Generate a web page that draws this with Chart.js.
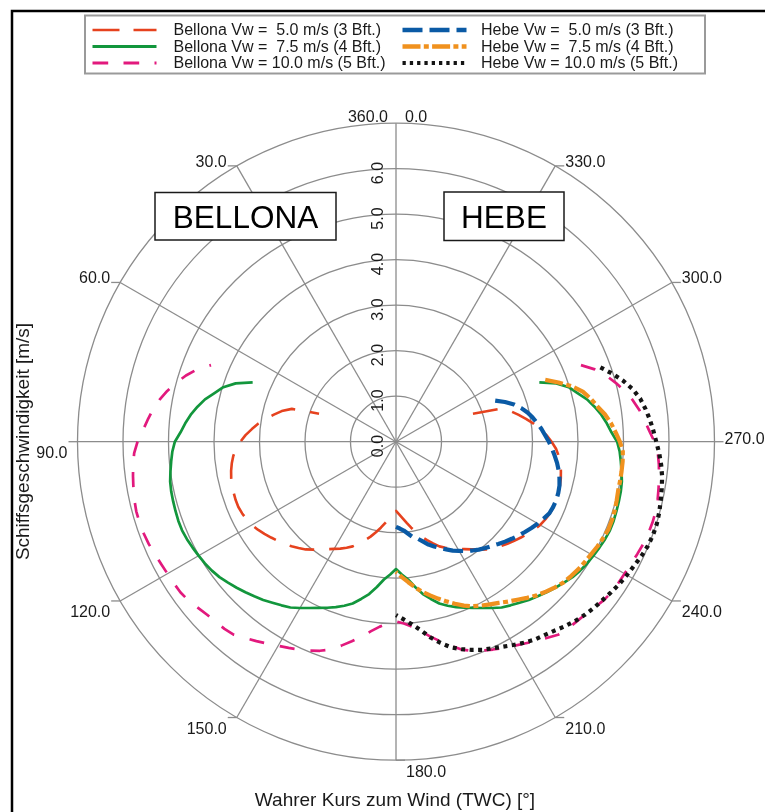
<!DOCTYPE html>
<html lang="de">
<head>
<meta charset="utf-8">
<title>Polardiagramm Bellona / Hebe</title>
<script src="https://cdn.jsdelivr.net/npm/chart.js@4/dist/chart.umd.min.js"></script>
<style>
  html, body { margin: 0; padding: 0; background: #ffffff; }
  #polar { display: block; }
</style>
</head>
<body>
<canvas id="polar" width="765" height="812"></canvas>
<script>
// Angular resolution of the polar grid (TWC in degrees)
const twcStep = 2.5;

// Tick labels
const angleTicks = [0, 30, 60, 90, 120, 150, 180, 210, 240, 270, 300, 330];
const speedTicks = [0, 1, 2, 3, 4, 5, 6];

// Ship speed [m/s] over true wind course, one value every 2.5 deg starting at *From
const bellona50From = 70;
const bellona50 = [
  1.80, 2.40, 2.60, 2.75, 2.90, 3.05, 3.18, 3.31, 3.42, 3.52,
  3.59, 3.64, 3.68, 3.71, 3.73, 3.74, 3.75, 3.75, 3.73, 3.70,
  3.66, 3.60, 3.53, 3.46, 3.39, 3.32, 3.25, 3.17, 3.09, 2.99,
  2.89, 2.80, 2.72, 2.65, 2.57, 2.49, 2.38, 2.27, 2.16, 2.04,
  1.92, 1.80, 1.69, 1.60, 1.52,
  1.60, 1.69, 1.80, 1.92, 2.04, 2.16, 2.27, 2.38, 2.49, 2.57,
  2.65, 2.72, 2.80, 2.89, 2.99, 3.09, 3.17, 3.25, 3.32, 3.39,
  3.46, 3.53, 3.60, 3.66, 3.70, 3.73, 3.75, 3.75, 3.74, 3.73,
  3.71, 3.68, 3.64, 3.59, 3.52, 3.42, 3.31, 3.18, 3.05, 2.90,
  2.75, 2.60, 2.40, 1.80
];

const bellona75From = 67.5;
const bellona75 = [
  3.41, 3.75, 3.98, 4.13, 4.30, 4.43, 4.55, 4.65, 4.74, 4.86,
  4.92, 4.96, 5.00, 5.04, 5.06, 5.07, 5.08, 5.09, 5.09, 5.07,
  5.04, 5.01, 4.98, 4.94, 4.89, 4.82, 4.75, 4.68, 4.61, 4.54,
  4.46, 4.39, 4.32, 4.22, 4.12, 4.03, 3.95, 3.87, 3.78, 3.68,
  3.54, 3.40, 3.22, 3.04, 2.92, 2.80,
  2.92, 3.04, 3.22, 3.40, 3.54, 3.68, 3.78, 3.87, 3.95, 4.03,
  4.12, 4.22, 4.32, 4.39, 4.46, 4.54, 4.61, 4.68, 4.75, 4.82,
  4.89, 4.94, 4.98, 5.01, 5.04, 5.07, 5.09, 5.09, 5.08, 5.07,
  5.06, 5.04, 5.00, 4.96, 4.92, 4.86, 4.74, 4.65, 4.55, 4.43,
  4.30, 4.13, 3.98, 3.75, 3.41
];

const bellona100From = 67.5;
const bellona100 = [
  4.40, 4.65, 4.84, 5.00, 5.15, 5.28, 5.39, 5.48, 5.57, 5.68,
  5.76, 5.80, 5.83, 5.86, 5.89, 5.91, 5.91, 5.90, 5.88, 5.85,
  5.82, 5.80, 5.79, 5.78, 5.74, 5.68, 5.63, 5.60, 5.58, 5.54,
  5.44, 5.35, 5.26, 5.18, 5.11, 5.04, 4.97, 4.89, 4.79, 4.64,
  4.49, 4.35, 4.20, 4.08, 4.00, 3.95,
  4.00, 4.08, 4.20, 4.35, 4.49, 4.64, 4.79, 4.89, 4.97, 5.04,
  5.11, 5.18, 5.26, 5.35, 5.44, 5.54, 5.58, 5.60, 5.63, 5.68,
  5.74, 5.78, 5.79, 5.80, 5.82, 5.85, 5.88, 5.90, 5.91, 5.91,
  5.89, 5.86, 5.83, 5.80, 5.76, 5.68, 5.57, 5.48, 5.39, 5.28,
  5.15, 5.00, 4.84, 4.65, 4.40
];

const hebe50From = 180;
const hebe50 = [
  1.87, 1.91, 1.96, 2.04, 2.13, 2.18, 2.27, 2.37, 2.45, 2.53,
  2.61, 2.70, 2.77, 2.85, 2.92, 2.99, 3.05, 3.11, 3.18, 3.25,
  3.32, 3.39, 3.46, 3.53, 3.60, 3.66, 3.72, 3.74, 3.75, 3.74,
  3.72, 3.68, 3.63, 3.57, 3.50, 3.43, 3.36, 3.28, 3.21, 3.13,
  3.05, 2.96, 2.85, 2.72, 2.55, 2.36
];

const hebe75From = 180;
const hebe75 = [
  2.86, 2.98, 3.10, 3.23, 3.35, 3.46, 3.57, 3.68, 3.79, 3.90,
  3.99, 4.06, 4.13, 4.20, 4.29, 4.38, 4.48, 4.58, 4.66, 4.74,
  4.81, 4.85, 4.89, 4.92, 4.95, 4.99, 5.02, 5.05, 5.05, 5.04,
  5.02, 5.00, 5.00, 5.00, 5.00, 4.99, 4.92, 4.83, 4.74, 4.63,
  4.49, 4.38, 4.25, 4.05, 3.80, 3.55
];

const hebe100From = 180;
const hebe100 = [
  3.81, 3.91, 4.03, 4.18, 4.37, 4.53, 4.68, 4.78, 4.87, 4.95,
  5.01, 5.08, 5.16, 5.24, 5.31, 5.36, 5.42, 5.50, 5.57, 5.63,
  5.68, 5.72, 5.77, 5.82, 5.86, 5.90, 5.95, 5.99, 6.01, 6.01,
  5.99, 5.96, 5.93, 5.90, 5.85, 5.79, 5.72, 5.66, 5.60, 5.53,
  5.45, 5.33, 5.17, 4.98, 4.78
];

const FONT = '"Liberation Sans", Arial, Helvetica, sans-serif';
const gridColor = '#8c8c8c';
const inkColor = '#1a1a1a';

// The radar scale runs clockwise from the top, TWC runs counter-clockwise:
// spoke i stands for TWC = 360 - i * step.
const spokeCount = Math.round(360 / twcStep);
const spokeLabels = Array.from({ length: spokeCount }, (_, i) =>
  ((360 - i * twcStep) % 360).toFixed(1));

function spokeIndex(twc) {
  const a = ((360 - twc) % 360 + 360) % 360;
  return Math.round(a / twcStep) % spokeCount;
}

function onSpokes(from, values) {
  const out = new Array(spokeCount).fill(null);
  values.forEach((v, j) => { out[spokeIndex(from + j * twcStep)] = v; });
  return out;
}

const series = [
  { label: 'Bellona Vw =  5.0 m/s (3 Bft.)', from: bellona50From, values: bellona50,
    color: '#e6421e', width: 2.6, dash: [25, 15], legendDash: [27, 14], legendWidth: 2.7, order: 1 },
  { label: 'Bellona Vw =  7.5 m/s (4 Bft.)', from: bellona75From, values: bellona75,
    color: '#12963c', width: 2.7, dash: [], legendDash: [], legendWidth: 3, order: 1 },
  { label: 'Bellona Vw = 10.0 m/s (5 Bft.)', from: bellona100From, values: bellona100,
    color: '#e2197d', width: 2.7, dash: [15, 16], legendDash: [15.7, 15.3], legendWidth: 3, order: 1 },
  { label: 'Hebe Vw =  5.0 m/s (3 Bft.)', from: hebe50From, values: hebe50,
    color: '#0a5aa5', width: 4.2, dash: [20, 7], legendDash: [20, 7], legendWidth: 4.3, order: 0 },
  { label: 'Hebe Vw =  7.5 m/s (4 Bft.)', from: hebe75From, values: hebe75,
    color: '#f0911e', width: 4.2, dash: [18, 3.5, 5, 3.5], legendDash: [18, 3.3, 5, 3.3], legendWidth: 4.3, order: 0 },
  { label: 'Hebe Vw = 10.0 m/s (5 Bft.)', from: hebe100From, values: hebe100,
    color: '#141414', width: 4.2, dash: [4, 4.5], legendDash: [3.3, 4], legendWidth: 4, order: 0 }
];

const datasets = series.map(s => ({
  label: s.label,
  data: onSpokes(s.from, s.values),
  borderColor: s.color,
  borderWidth: s.width,
  borderDash: s.dash,
  borderCapStyle: 'butt',
  borderJoinStyle: 'round',
  fill: false,
  tension: 0,
  spanGaps: false,
  pointRadius: 0,
  pointHoverRadius: 0,
  order: s.order
}));

function textAt(ctx, text, x, y, align, font) {
  ctx.font = font;
  ctx.textAlign = align;
  ctx.textBaseline = 'alphabetic';
  ctx.fillText(text, x, y);
}

function labelBox(ctx, text, x0, y0, x1, y1, baseline) {
  ctx.fillStyle = '#ffffff';
  ctx.fillRect(x0, y0, x1 - x0, y1 - y0);
  ctx.strokeStyle = inkColor;
  ctx.lineWidth = 1.5;
  ctx.setLineDash([]);
  ctx.strokeRect(x0, y0, x1 - x0, y1 - y0);
  ctx.fillStyle = '#000000';
  textAt(ctx, text, (x0 + x1) / 2, baseline, 'center', '31.5px ' + FONT);
}

const polarDecor = {
  id: 'polarDecor',
  afterDraw(chart) {
    const ctx = chart.ctx;
    const r = chart.scales.r;
    ctx.save();

    // frame
    ctx.strokeStyle = '#000000';
    ctx.lineWidth = 2.5;
    ctx.strokeRect(12, 11, 900, 900);

    // angle ticks and labels on the rim
    ctx.strokeStyle = gridColor;
    ctx.lineWidth = 1.3;
    ctx.fillStyle = inkColor;
    const angleFont = '16px ' + FONT;
    angleTicks.forEach(a => {
      const p = r.getPointPosition(spokeIndex(a), r.drawingArea);
      if (a === 0) {
        textAt(ctx, (0).toFixed(1), p.x + 9, p.y - 1.5, 'left', angleFont);
        textAt(ctx, (360).toFixed(1), p.x - 8, p.y - 1.5, 'right', angleFont);
        return;
      }
      const dir = (a > 0 && a < 180) ? -1 : 1;
      ctx.beginPath();
      ctx.moveTo(p.x, p.y);
      ctx.lineTo(p.x + dir * 9, p.y);
      ctx.stroke();
      let base;
      if (a < 90 || a > 270) base = p.y + 1;
      else if (a === 270) base = p.y + 2.5;
      else base = p.y + 16.5;
      textAt(ctx, a.toFixed(1), p.x + dir * 10, base, dir < 0 ? 'right' : 'left', angleFont);
    });

    // speed labels along the 0 deg spoke, written upwards
    speedTicks.forEach(v => {
      const p = r.getPointPositionForValue(0, v);
      ctx.save();
      ctx.translate(p.x - 13, p.y + 15.5);
      ctx.rotate(-Math.PI / 2);
      textAt(ctx, v.toFixed(1), 0, 0, 'left', '16px ' + FONT);
      ctx.restore();
    });

    // axis titles
    ctx.fillStyle = inkColor;
    textAt(ctx, 'Wahrer Kurs zum Wind (TWC) [°]', 395, 806, 'center', '19px ' + FONT);
    ctx.save();
    ctx.translate(29, 441.5);
    ctx.rotate(-Math.PI / 2);
    textAt(ctx, 'Schiffsgeschwindigkeit [m/s]', 0, 0, 'center', '19px ' + FONT);
    ctx.restore();

    // ship name boxes
    labelBox(ctx, 'BELLONA', 155, 192.5, 336, 240, 227.7);
    labelBox(ctx, 'HEBE', 444, 192, 564, 240.5, 227.7);

    // legend
    ctx.fillStyle = '#ffffff';
    ctx.fillRect(85, 15.5, 620, 58);
    ctx.strokeStyle = '#9a9a9a';
    ctx.lineWidth = 2;
    ctx.setLineDash([]);
    ctx.strokeRect(85, 15.5, 620, 58);
    const rowY = [30, 46.5, 63];
    series.forEach((s, k) => {
      const col = k < 3 ? 0 : 1;
      const y = rowY[k % 3];
      const x0 = col === 0 ? 92.5 : 402.5;
      const x1 = x0 + 64;
      ctx.beginPath();
      ctx.strokeStyle = s.color;
      ctx.lineWidth = s.legendWidth;
      ctx.lineCap = 'butt';
      ctx.setLineDash(s.legendDash);
      ctx.moveTo(x0, y);
      ctx.lineTo(x1, y);
      ctx.stroke();
      ctx.setLineDash([]);
      ctx.fillStyle = inkColor;
      textAt(ctx, s.label, col === 0 ? 173.5 : 481, y + 5, 'left', '16px ' + FONT);
    });

    ctx.restore();
  }
};

new Chart(document.getElementById('polar'), {
  type: 'radar',
  data: { labels: spokeLabels, datasets },
  options: {
    responsive: false,
    animation: false,
    events: [],
    layout: { padding: { left: 77.5, right: 50.5, top: 123.2, bottom: 51.8 } },
    plugins: { legend: { display: false }, tooltip: { enabled: false }, title: { display: false } },
    scales: {
      r: {
        min: 0,
        max: 7,
        startAngle: 0,
        ticks: { display: false, stepSize: 1 },
        grid: { circular: true, color: gridColor, lineWidth: 1.3 },
        angleLines: {
          display: true,
          color: gridColor,
          lineWidth: c => (spokeLabels[c.index] !== undefined && Number(spokeLabels[c.index]) % 30 === 0 ? 1.3 : 0)
        },
        pointLabels: { display: false },
        afterFit(scale) {
          scale.xCenter = scale.left + scale.width / 2;
          scale.yCenter = scale.top + scale.height / 2;
          scale.drawingArea = Math.min(scale.width, scale.height) / 2;
        }
      }
    }
  },
  plugins: [polarDecor]
});
</script>
</body>
</html>
